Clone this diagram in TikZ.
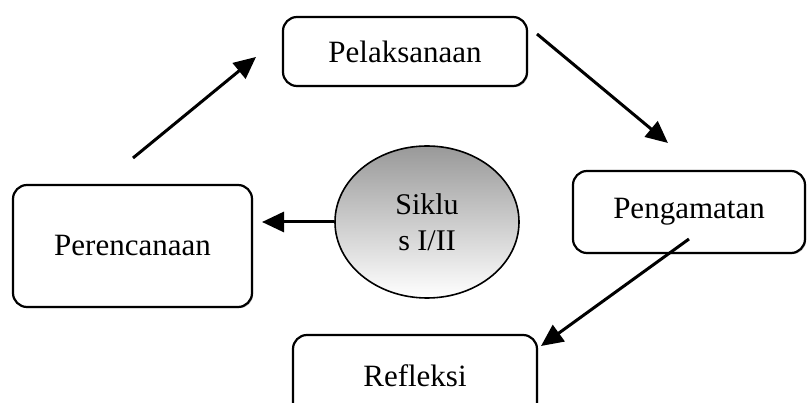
\documentclass[tikz,border=0pt]{standalone}
\usepackage{fontspec}
\setmainfont{Liberation Serif}
\usetikzlibrary{arrows.meta,shapes.geometric,shadows}
\begin{document}
\begin{tikzpicture}[x=1pt,y=-1pt,
  stagebox/.style={draw=black, line width=2.2pt, rounded corners=14pt, fill=white,
    font=\fontsize{31}{37}\selectfont, inner sep=0pt,
    drop shadow={shadow xshift=1.2pt, shadow yshift=-1.2pt, fill=gray!60, opacity=0.8}},
  cyc/.style={draw=black, line width=1.6pt, ellipse, inner sep=0pt,
    top color=gray!80, bottom color=white, font=\fontsize{30}{36}\selectfont, align=center},
  flow/.style={line width=3pt, -{Triangle[length=22pt,width=20pt]}}
]
\clip (0,0) rectangle (807,403);
\fill[white] (0,0) rectangle (807,403);

\node[stagebox, minimum width=244pt, minimum height=69pt] (pel) at (405,51.5) {Pelaksanaan};
\node[stagebox, minimum width=232pt, minimum height=82pt] (pen) at (689,212) {Pengamatan\vphantom{P}};
\node[stagebox, minimum width=239pt, minimum height=122pt] (per) at (132.5,246) {Perencanaan};
\node[stagebox, minimum width=244pt, minimum height=82pt] (ref) at (415,376) {Refleksi};
\node[cyc, minimum width=184pt, minimum height=152pt] (sik) at (427,222) {Siklu\\s I/II};

\coordinate (a1s) at (133,158);
\coordinate (a1e) at (256,57);
\coordinate (a2s) at (537,34);
\coordinate (a2e) at (668,143);
\coordinate (a3s) at (689,239);
\coordinate (a3e) at (541,346);
\coordinate (a4e) at (262,222);

\draw[flow] (a1s) -- (a1e);
\draw[flow] (a2s) -- (a2e);
\draw[flow] (a3s) -- (a3e);
\draw[flow] (sik.west) -- (a4e);
\end{tikzpicture}
\end{document}
